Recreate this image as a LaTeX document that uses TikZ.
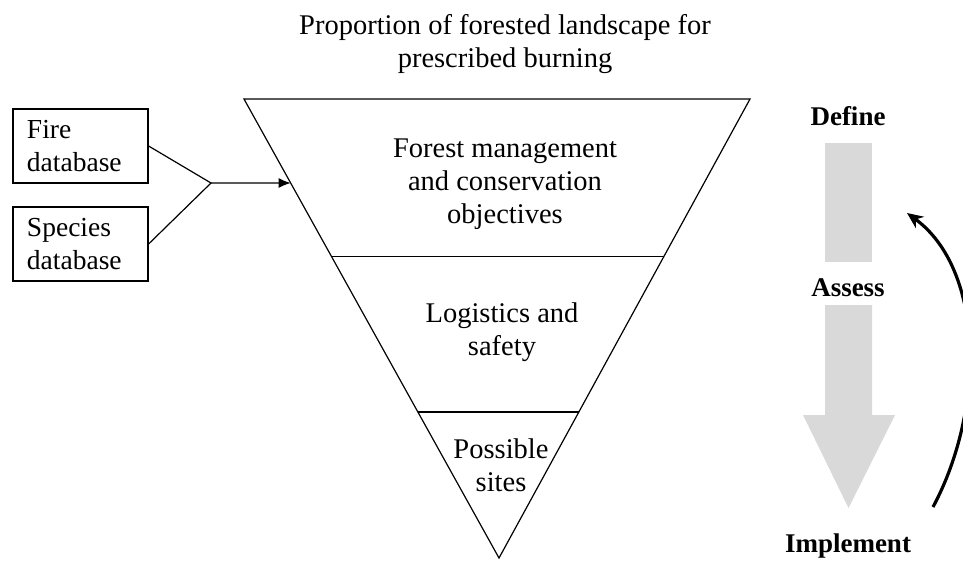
\documentclass[tikz,border=0pt]{standalone}
\usepackage{fontspec}
\setmainfont{Liberation Serif}
\usetikzlibrary{arrows.meta,calc}
\definecolor{stepgrey}{HTML}{D9D9D9}
\begin{document}
\begin{tikzpicture}[x=1pt, y=-1pt, line width=1.2pt,
  dbbox/.style={draw, minimum width=135pt, minimum height=74pt, text width=107pt,
    inner xsep=14pt, align=left, font=\fontsize{27.5}{33}\selectfont},
  tier/.style={align=center, font=\fontsize{28.5}{33}\selectfont},
  stage/.style={font=\fontsize{27}{32}\selectfont\bfseries}]
\useasboundingbox (0,0) rectangle (963,560);
%%%% Title:
\node[tier] (title) at (505,44) {Proportion of forested landscape for\\prescribed burning};
%%%% Inverted triangle and its tiers
\coordinate (tl) at (244,99);
\coordinate (tr) at (750,99);
\coordinate (apex) at (499,558);
\draw (tl) -- (tr) -- (apex) -- cycle;
\draw ($(tl)!0.344!(apex)$) -- ($(tr)!0.344!(apex)$);
\draw ($(tl)!0.682!(apex)$) -- ($(tr)!0.682!(apex)$);
\node[tier] (objectives) at (505,184) {Forest management\\and conservation\\objectives};
\node[tier] (logistics) at (502,332) {Logistics and\\safety};
\node[tier] (sites) at (501,465) {Possible\\sites};
%%%% Databases:
\node[dbbox] (fire) at (80.5,146) {Fire\\database};
\node[dbbox] (species) at (80.5,244) {Species\\database};
\coordinate (join) at (211,183);
\coordinate (entry) at ($(tl)!0.183!(apex)$);
\draw (fire.east) -- (join) -- (species.east);
\draw[-{Latex[length=12pt,width=10pt]}] (join) -- (entry);
%%%% Define / Assess / Implement
\node[stage] (define) at (848,116) {Define};
\node[stage] (assess) at (848,288) {Assess};
\node[stage] (implement) at (848,546) {Implement};
\fill[stepgrey] (825,143) rectangle (872,262);
\fill[stepgrey] (825,305) -- (872,305) -- (872,415) -- (895,415) -- (848.5,508)
  -- (803,415) -- (825,415) -- cycle;
%%%% Feedback arrow
\coordinate (loopstart) at (933,507);
\coordinate (loopend) at (907,213);
\draw[line width=3.2pt, -{Stealth[length=16pt,width=14pt]}]
  (loopstart) .. controls (985,410) and (985,270) .. (loopend);
\end{tikzpicture}
\end{document}
